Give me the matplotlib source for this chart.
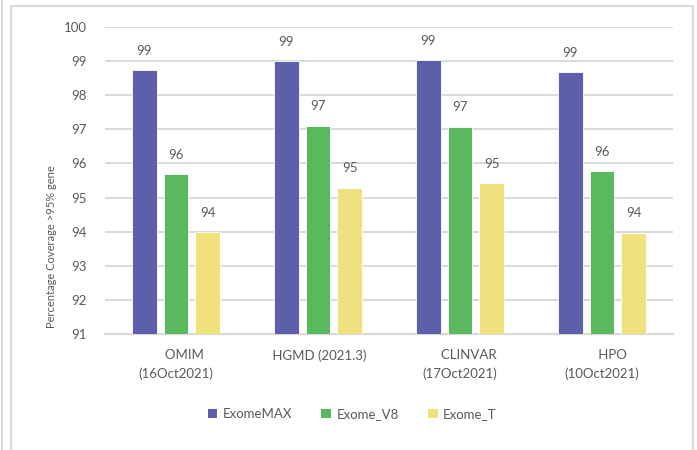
import numpy as np
import matplotlib.pyplot as plt
from matplotlib.patches import Rectangle, Patch

plt.rcParams['font.family'] = ['Lato', 'DejaVu Sans']

categories = ['     OMIM\n(16Oct2021)', ' HGMD (2021.3)', '     CLINVAR\n(17Oct2021)', '      HPO\n(10Oct2021)']
series = ['ExomeMAX', 'Exome_V8', 'Exome_T']
exomemax = [98.73, 98.99, 99.03, 98.67]
exome_v8 = [95.69, 97.11, 97.08, 95.78]
exome_t = [93.98, 95.29, 95.43, 93.97]
colors = ['#5D5FAB', '#5CB85F', '#EEE17E']
text_gray = '#595959'
grid_gray = '#D9D9D9'

fig = plt.figure(figsize=(6.97, 4.5), dpi=100)
ax = fig.add_axes([0.1506, 0.2578, 0.815, 0.6822])

x = np.arange(len(categories))
width = 0.17
offsets = [-0.222, 0.0, 0.222]
for vals, off, c in zip([exomemax, exome_v8, exome_t], offsets, colors):
    bars = ax.bar(x + off, np.array(vals) - 91, width, bottom=91, color=c,
                  edgecolor='white', linewidth=0.6, zorder=3)
    for b, v in zip(bars, vals):
        ax.annotate(f'{v:.0f}', xy=(b.get_x() + b.get_width() / 2, v),
                    xytext=(0, 9.5), textcoords='offset points',
                    ha='center', va='bottom', fontsize=9.5, color=text_gray)

ax.set_ylim(91, 100)
ax.set_xlim(-0.5, 3.5)
ax.set_yticks(range(91, 101))
ax.set_xticks(x)
ax.set_xticklabels(categories, fontsize=9.5, color=text_gray, linespacing=1.6)
ax.tick_params(axis='y', length=0, pad=13, labelsize=9.5, labelcolor=text_gray)
ax.tick_params(axis='x', length=0, pad=11)
ax.grid(axis='y', color=grid_gray, lw=1.4, zorder=0)
for s in ['top', 'right', 'left']:
    ax.spines[s].set_visible(False)
ax.spines['bottom'].set_color(grid_gray)
ax.spines['bottom'].set_linewidth(1.6)

fig.text(52 / 697, 1 - 247 / 450, 'Percentage Coverage >95% gene', rotation=90,
         ha='center', va='center', fontsize=8, color=text_gray)

handles = [Patch(facecolor=c, edgecolor='none') for c in colors]
fig.legend(handles, series, loc='center', bbox_to_anchor=(352 / 697, 1 - 414 / 450),
           ncol=3, frameon=False, fontsize=9.5, labelcolor=text_gray,
           handlelength=0.75, handleheight=0.75, handletextpad=0.4, columnspacing=2.2)

# chart border
fig.patches.append(Rectangle((11 / 697, -0.1), (693 - 11) / 697, 1.1 - 6 / 450,
                             transform=fig.transFigure, fill=False,
                             edgecolor=grid_gray, lw=1.5))
fig.add_artist(plt.Line2D([2 / 697, 2 / 697], [0, 1], transform=fig.transFigure,
                          color=grid_gray, lw=1.5))

fig.savefig('out.png', dpi=100)
